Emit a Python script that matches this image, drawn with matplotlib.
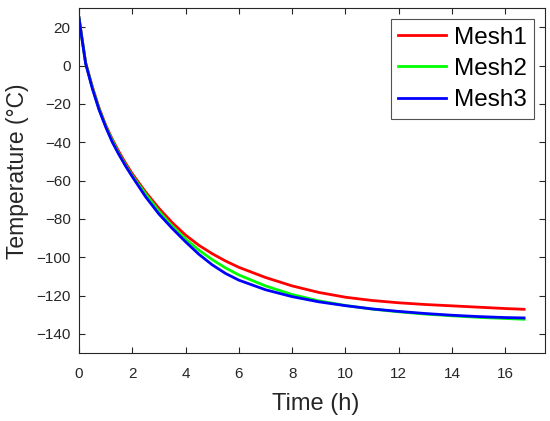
import numpy as np
import matplotlib
matplotlib.use('Agg')
import matplotlib.pyplot as plt

# time (h)
time_h = [0, 0.1, 0.25, 0.5, 0.75, 1.0, 1.25, 1.5, 1.75, 2.0, 2.5, 3.0, 3.5, 4.0, 4.5,
          5.0, 5.5, 6.0, 7.0, 8.0, 9.0, 10.0, 11.0, 12.0, 13.0, 14.0, 15.0, 16.0, 16.7]

# temperature (°C)
mesh1 = [25, 15.5, 1.5, -11, -22, -31, -38.5, -45, -51, -56.5, -66, -74.5, -82, -88.5, -93.8,
         -98.2, -102, -105.3, -110.6, -115, -118.4, -120.9, -122.6, -123.8, -124.7, -125.4,
         -126.1, -126.8, -127.2]
mesh2 = [25, 15.2, 1.2, -11.5, -22.5, -31.5, -39.3, -46, -52, -57.5, -67, -76, -83.8, -90.5, -96.3,
         -101.3, -105.6, -109.3, -115, -119.5, -122.8, -125.2, -127.1, -128.5, -129.7, -130.6,
         -131.4, -132, -132.4]
mesh3 = [25, 15, 1, -12, -23, -32, -40, -46.5, -52.5, -58, -68.5, -77.5, -85, -92, -98.5,
         -104, -108.5, -112, -117, -120.6, -123.3, -125.3, -127, -128.3, -129.4, -130.3,
         -131, -131.5, -131.7]

labels = ['Mesh1', 'Mesh2', 'Mesh3']
colors = ['#ff0000', '#00ff00', '#0000ff']

plt.rcParams['font.family'] = ['Liberation Sans', 'DejaVu Sans']
axcol = '#262626'

fig = plt.figure(figsize=(5.5, 4.21), dpi=100)
ax = fig.add_axes([0.1436, 0.1615, 0.848, 0.8195])

for y, lab, c in zip([mesh1, mesh2, mesh3], labels, colors):
    ax.plot(time_h, y, color=c, linewidth=2.0, label=lab)

ax.set_xlim(0, 17.5)
ax.set_ylim(-150, 30)
ax.set_xticks(np.arange(0, 17, 2))
ax.set_yticks(np.arange(-140, 21, 20))

ax.tick_params(direction='in', top=True, right=True, length=4, width=0.8,
               colors=axcol, labelsize=11, labelcolor=axcol)
ax.tick_params(axis='x', pad=10)
ax.tick_params(axis='y', pad=6)
for s in ax.spines.values():
    s.set_color(axcol)
    s.set_linewidth(0.8)

ax.set_xlabel('Time (h)', fontsize=17, color=axcol, labelpad=9)
ax.set_ylabel('Temperature (°C)', fontsize=16.5, color=axcol)
ax.yaxis.set_label_coords(-0.108, 0.527)
ax.xaxis.label.set_x(0.507)

leg = ax.legend(loc='upper right', fontsize=17.5, frameon=True, fancybox=False,
                handlelength=2.0, handletextpad=0.3, labelspacing=0.38,
                borderpad=0.3, borderaxespad=0.47)
leg.get_frame().set_edgecolor('#262626')
leg.get_frame().set_linewidth(0.8)

fig.savefig('out.png', dpi=100)
